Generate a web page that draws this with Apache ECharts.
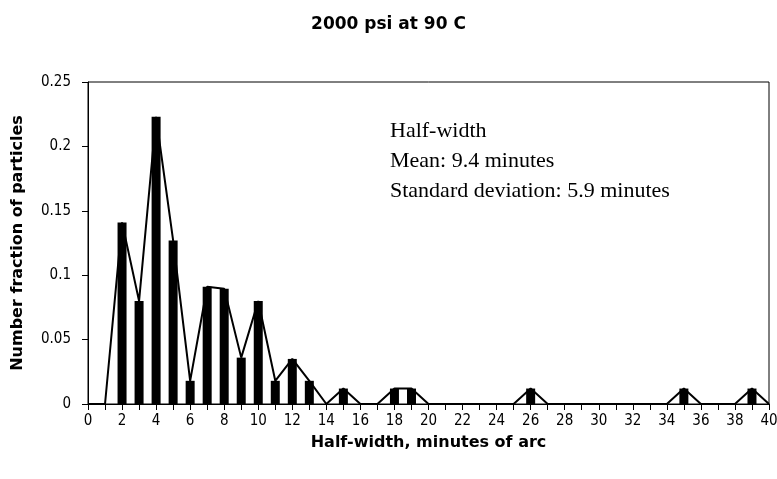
<!DOCTYPE html>
<html><head><meta charset="utf-8">
<script src="https://cdn.jsdelivr.net/npm/echarts@6/dist/echarts.min.js"></script>
<style>html,body{margin:0;padding:0;background:#fff}#c{width:777px;height:479px}</style>
</head><body><div id="c"></div>
<script>
const halfWidth = [0,1,2,3,4,5,6,7,8,9,10,11,12,13,14,15,16,17,18,19,20,21,22,23,24,25,26,27,28,29,30,31,32,33,34,35,36,37,38,39,40];
const fraction = [0,0,0.141,0.080,0.223,0.127,0.018,0.091,0.0895,0.036,0.080,0.018,0.035,0.018,0,0.012,0,0,0.012,0.012,0,0,0,0,0,0,0.012,0,0,0,0,0,0,0,0,0.012,0,0,0,0.012,0];
const yTicks = [0,0.05,0.1,0.15,0.2,0.25];
const noteLines = ['Half-width','Mean: 9.4 minutes','Standard deviation: 5.9 minutes'];

const pts = halfWidth.map((x,i)=>[x,fraction[i]]);
const chart = echarts.init(document.getElementById('c'), null, {renderer:'canvas'});
const axisFont = {color:'#000', fontFamily:'Liberation Sans Narrow, DejaVu Sans Condensed, Liberation Sans, Arial', fontSize:15};
const boldFont = 'DejaVu Sans, Liberation Sans, Arial';
chart.setOption({
  animation:false,
  backgroundColor:'#fff',
  title:{text:'2000 psi at 90 C', left:'center', top:11,
    textStyle:{fontFamily:boldFont, fontWeight:'bold', fontSize:17, color:'#000'}},
  grid:{left:88, right:8, top:82, bottom:75, containLabel:false, outerBoundsMode:'none',
    show:true, borderColor:'#000', borderWidth:1, backgroundColor:'transparent'},
  xAxis:{type:'value', min:0, max:40, interval:1,
    name:'Half-width, minutes of arc', nameLocation:'middle', nameGap:31,
    nameTextStyle:{fontFamily:boldFont, fontWeight:'bold', fontSize:16, color:'#000'},
    axisLine:{lineStyle:{color:'#000', width:1}},
    axisTick:{show:true, length:6, lineStyle:{color:'#000'}},
    splitLine:{show:false},
    axisLabel:Object.assign({margin:10, formatter:v=> (v%2===0 ? String(v) : '')}, axisFont)
  },
  yAxis:{type:'value', min:yTicks[0], max:yTicks[yTicks.length-1], interval:0.05,
    name:'Number fraction of particles', nameLocation:'middle', nameGap:62, nameRotate:90,
    nameTextStyle:{fontFamily:boldFont, fontWeight:'bold', fontSize:16, color:'#000'},
    axisLine:{show:true, lineStyle:{color:'#000', width:1}},
    axisTick:{show:true, length:6, lineStyle:{color:'#000'}},
    splitLine:{show:false},
    axisLabel:Object.assign({margin:17}, axisFont)
  },
  graphic: noteLines.map((t,i)=>({type:'text', left:390, top:120+i*30, z:10,
    style:{text:t, fill:'#000', font:'22px "Liberation Serif", "Times New Roman", serif'}})),
  series:[
    {type:'line', data:pts, symbol:'none', lineStyle:{color:'#000', width:2}, z:2},
    {type:'bar', data:pts, barWidth:9, itemStyle:{color:'#000'}, z:3}
  ]
});
</script></body></html>
